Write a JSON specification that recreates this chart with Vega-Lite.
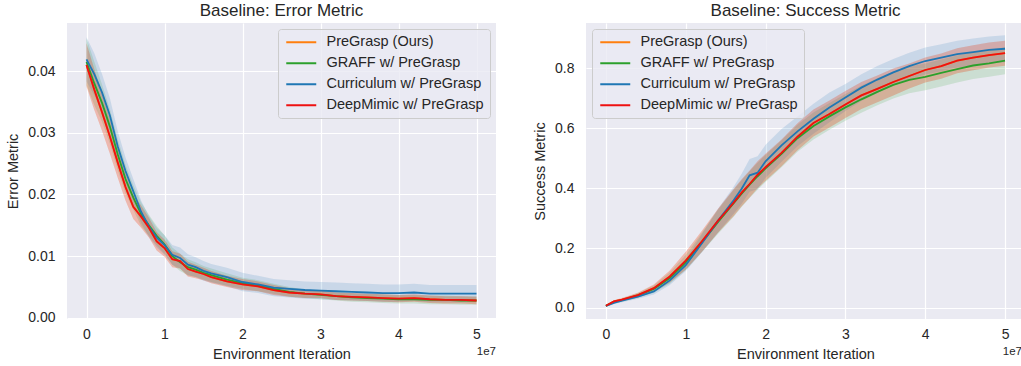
{
"$schema": "https://vega.github.io/schema/vega-lite/v6.json",
"padding": {"left": 5, "top": 2, "right": 0, "bottom": 0},
"background": "white",
"config": {
  "font": "Liberation Sans",
  "view": {"fill": "#EAEAF2", "stroke": null},
  "axis": {"domain": false, "ticks": false, "gridColor": "#FFFFFF", "gridWidth": 1.2, "labelColor": "#262626", "titleColor": "#262626", "labelFontSize": 14, "titleFontSize": 14.5, "titleFontWeight": "normal", "labelFont": "Liberation Sans", "titleFont": "Liberation Sans"},
  "axisX": {"labelPadding": 8, "titlePadding": 6},
  "axisY": {"labelPadding": 12, "titlePadding": 7},
  "title": {"fontSize": 17, "fontWeight": "normal", "color": "#262626", "offset": 3, "font": "Liberation Sans"},
  "legend": {"symbolStrokeWidth": 2, "labelFontSize": 14.5, "labelColor": "#262626", "labelFont": "Liberation Sans", "fillColor": "rgba(234,234,242,0.8)", "strokeColor": "#cccccc", "cornerRadius": 3, "padding": 6, "rowPadding": 6, "offset": 6, "labelLimit": 300},
  "concat": {"spacing": 36}
},
"datasets": {
"err": [
{"s":"P","x":0,"y":0.0410,"l":0.0375,"h":0.0445},{"s":"P","x":1,"y":0.0370,"l":0.0337,"h":0.0403},{"s":"P","x":2,"y":0.0333,"l":0.0303,"h":0.0363},{"s":"P","x":3,"y":0.0294,"l":0.0266,"h":0.0322},{"s":"P","x":4,"y":0.0252,"l":0.0227,"h":0.0277},{"s":"P","x":5,"y":0.0212,"l":0.0190,"h":0.0234},{"s":"P","x":6,"y":0.0180,"l":0.0160,"h":0.0200},{"s":"P","x":7,"y":0.0164,"l":0.0146,"h":0.0182},{"s":"P","x":8,"y":0.0146,"l":0.0130,"h":0.0162},{"s":"P","x":9,"y":0.0124,"l":0.0109,"h":0.0139},{"s":"P","x":10,"y":0.0113,"l":0.0099,"h":0.0127},{"s":"P","x":11,"y":0.0095,"l":0.0082,"h":0.0108},{"s":"P","x":12,"y":0.0092,"l":0.0080,"h":0.0104},{"s":"P","x":13,"y":0.0079,"l":0.0067,"h":0.0091},{"s":"P","x":14,"y":0.0075,"l":0.0064,"h":0.0086},{"s":"P","x":15,"y":0.0071,"l":0.0061,"h":0.0081},{"s":"P","x":16,"y":0.0066,"l":0.0056,"h":0.0076},{"s":"P","x":18,"y":0.0059,"l":0.0050,"h":0.0068},{"s":"P","x":20,"y":0.0054,"l":0.0045,"h":0.0063},{"s":"P","x":22,"y":0.0051,"l":0.0043,"h":0.0059},{"s":"P","x":24,"y":0.0045,"l":0.0037,"h":0.0053},{"s":"P","x":26,"y":0.0041,"l":0.0034,"h":0.0048},{"s":"P","x":28,"y":0.0039,"l":0.0032,"h":0.0046},{"s":"P","x":30,"y":0.0038,"l":0.0032,"h":0.0044},{"s":"P","x":32,"y":0.0035,"l":0.0029,"h":0.0041},{"s":"P","x":34,"y":0.0034,"l":0.0028,"h":0.0040},{"s":"P","x":36,"y":0.0033,"l":0.0027,"h":0.0039},{"s":"P","x":38,"y":0.0032,"l":0.0026,"h":0.0038},{"s":"P","x":40,"y":0.0031,"l":0.0025,"h":0.0037},{"s":"P","x":42,"y":0.0032,"l":0.0026,"h":0.0038},{"s":"P","x":44,"y":0.0030,"l":0.0024,"h":0.0036},{"s":"P","x":46,"y":0.0029,"l":0.0023,"h":0.0035},{"s":"P","x":48,"y":0.0029,"l":0.0023,"h":0.0035},{"s":"P","x":50,"y":0.0028,"l":0.0022,"h":0.0034},
{"s":"G","x":0,"y":0.0415,"l":0.0377,"h":0.0453},{"s":"G","x":1,"y":0.0380,"l":0.0345,"h":0.0415},{"s":"G","x":2,"y":0.0348,"l":0.0318,"h":0.0378},{"s":"G","x":3,"y":0.0310,"l":0.0282,"h":0.0338},{"s":"G","x":4,"y":0.0265,"l":0.0240,"h":0.0290},{"s":"G","x":5,"y":0.0225,"l":0.0202,"h":0.0248},{"s":"G","x":6,"y":0.0195,"l":0.0175,"h":0.0215},{"s":"G","x":7,"y":0.0168,"l":0.0149,"h":0.0187},{"s":"G","x":8,"y":0.0150,"l":0.0133,"h":0.0167},{"s":"G","x":9,"y":0.0133,"l":0.0117,"h":0.0149},{"s":"G","x":10,"y":0.0119,"l":0.0104,"h":0.0134},{"s":"G","x":11,"y":0.0100,"l":0.0086,"h":0.0114},{"s":"G","x":12,"y":0.0090,"l":0.0076,"h":0.0104},{"s":"G","x":13,"y":0.0082,"l":0.0069,"h":0.0095},{"s":"G","x":14,"y":0.0078,"l":0.0066,"h":0.0090},{"s":"G","x":15,"y":0.0073,"l":0.0062,"h":0.0084},{"s":"G","x":16,"y":0.0069,"l":0.0058,"h":0.0080},{"s":"G","x":18,"y":0.0062,"l":0.0052,"h":0.0072},{"s":"G","x":20,"y":0.0056,"l":0.0047,"h":0.0065},{"s":"G","x":22,"y":0.0052,"l":0.0043,"h":0.0061},{"s":"G","x":24,"y":0.0047,"l":0.0039,"h":0.0055},{"s":"G","x":26,"y":0.0042,"l":0.0034,"h":0.0050},{"s":"G","x":28,"y":0.0039,"l":0.0032,"h":0.0046},{"s":"G","x":30,"y":0.0037,"l":0.0030,"h":0.0044},{"s":"G","x":32,"y":0.0035,"l":0.0028,"h":0.0042},{"s":"G","x":34,"y":0.0033,"l":0.0026,"h":0.0040},{"s":"G","x":36,"y":0.0032,"l":0.0025,"h":0.0039},{"s":"G","x":38,"y":0.0031,"l":0.0024,"h":0.0038},{"s":"G","x":40,"y":0.0030,"l":0.0023,"h":0.0037},{"s":"G","x":42,"y":0.0030,"l":0.0023,"h":0.0037},{"s":"G","x":44,"y":0.0029,"l":0.0022,"h":0.0036},{"s":"G","x":46,"y":0.0029,"l":0.0022,"h":0.0036},{"s":"G","x":48,"y":0.0028,"l":0.0021,"h":0.0035},{"s":"G","x":50,"y":0.0028,"l":0.0021,"h":0.0035},
{"s":"C","x":0,"y":0.0419,"l":0.0383,"h":0.0455},{"s":"C","x":1,"y":0.0395,"l":0.0361,"h":0.0429},{"s":"C","x":2,"y":0.0365,"l":0.0335,"h":0.0395},{"s":"C","x":3,"y":0.0328,"l":0.0300,"h":0.0356},{"s":"C","x":4,"y":0.0278,"l":0.0253,"h":0.0303},{"s":"C","x":5,"y":0.0238,"l":0.0216,"h":0.0260},{"s":"C","x":6,"y":0.0205,"l":0.0185,"h":0.0225},{"s":"C","x":7,"y":0.0172,"l":0.0154,"h":0.0190},{"s":"C","x":8,"y":0.0148,"l":0.0131,"h":0.0165},{"s":"C","x":9,"y":0.0130,"l":0.0114,"h":0.0146},{"s":"C","x":10,"y":0.0118,"l":0.0102,"h":0.0134},{"s":"C","x":11,"y":0.0102,"l":0.0086,"h":0.0118},{"s":"C","x":12,"y":0.0097,"l":0.0080,"h":0.0114},{"s":"C","x":13,"y":0.0086,"l":0.0069,"h":0.0103},{"s":"C","x":14,"y":0.0082,"l":0.0066,"h":0.0098},{"s":"C","x":15,"y":0.0076,"l":0.0060,"h":0.0092},{"s":"C","x":16,"y":0.0072,"l":0.0057,"h":0.0087},{"s":"C","x":18,"y":0.0066,"l":0.0051,"h":0.0081},{"s":"C","x":20,"y":0.0058,"l":0.0043,"h":0.0073},{"s":"C","x":22,"y":0.0054,"l":0.0040,"h":0.0068},{"s":"C","x":24,"y":0.0049,"l":0.0035,"h":0.0063},{"s":"C","x":26,"y":0.0047,"l":0.0033,"h":0.0061},{"s":"C","x":28,"y":0.0045,"l":0.0031,"h":0.0059},{"s":"C","x":30,"y":0.0044,"l":0.0030,"h":0.0058},{"s":"C","x":32,"y":0.0043,"l":0.0029,"h":0.0057},{"s":"C","x":34,"y":0.0042,"l":0.0028,"h":0.0056},{"s":"C","x":36,"y":0.0041,"l":0.0027,"h":0.0055},{"s":"C","x":38,"y":0.0040,"l":0.0026,"h":0.0054},{"s":"C","x":40,"y":0.0040,"l":0.0026,"h":0.0054},{"s":"C","x":42,"y":0.0041,"l":0.0027,"h":0.0055},{"s":"C","x":44,"y":0.0039,"l":0.0025,"h":0.0053},{"s":"C","x":46,"y":0.0039,"l":0.0025,"h":0.0053},{"s":"C","x":48,"y":0.0039,"l":0.0025,"h":0.0053},{"s":"C","x":50,"y":0.0039,"l":0.0025,"h":0.0053},
{"s":"D","x":0,"y":0.0410,"l":0.0375,"h":0.0445},{"s":"D","x":1,"y":0.0370,"l":0.0337,"h":0.0403},{"s":"D","x":2,"y":0.0333,"l":0.0303,"h":0.0363},{"s":"D","x":3,"y":0.0294,"l":0.0266,"h":0.0322},{"s":"D","x":4,"y":0.0252,"l":0.0227,"h":0.0277},{"s":"D","x":5,"y":0.0212,"l":0.0190,"h":0.0234},{"s":"D","x":6,"y":0.0180,"l":0.0160,"h":0.0200},{"s":"D","x":7,"y":0.0164,"l":0.0146,"h":0.0182},{"s":"D","x":8,"y":0.0146,"l":0.0130,"h":0.0162},{"s":"D","x":9,"y":0.0124,"l":0.0109,"h":0.0139},{"s":"D","x":10,"y":0.0113,"l":0.0099,"h":0.0127},{"s":"D","x":11,"y":0.0095,"l":0.0082,"h":0.0108},{"s":"D","x":12,"y":0.0092,"l":0.0080,"h":0.0104},{"s":"D","x":13,"y":0.0079,"l":0.0067,"h":0.0091},{"s":"D","x":14,"y":0.0075,"l":0.0064,"h":0.0086},{"s":"D","x":15,"y":0.0071,"l":0.0061,"h":0.0081},{"s":"D","x":16,"y":0.0066,"l":0.0056,"h":0.0076},{"s":"D","x":18,"y":0.0059,"l":0.0050,"h":0.0068},{"s":"D","x":20,"y":0.0054,"l":0.0045,"h":0.0063},{"s":"D","x":22,"y":0.0051,"l":0.0043,"h":0.0059},{"s":"D","x":24,"y":0.0045,"l":0.0037,"h":0.0053},{"s":"D","x":26,"y":0.0041,"l":0.0034,"h":0.0048},{"s":"D","x":28,"y":0.0039,"l":0.0032,"h":0.0046},{"s":"D","x":30,"y":0.0038,"l":0.0032,"h":0.0044},{"s":"D","x":32,"y":0.0035,"l":0.0029,"h":0.0041},{"s":"D","x":34,"y":0.0034,"l":0.0028,"h":0.0040},{"s":"D","x":36,"y":0.0033,"l":0.0027,"h":0.0039},{"s":"D","x":38,"y":0.0032,"l":0.0026,"h":0.0038},{"s":"D","x":40,"y":0.0031,"l":0.0025,"h":0.0037},{"s":"D","x":42,"y":0.0032,"l":0.0026,"h":0.0038},{"s":"D","x":44,"y":0.0030,"l":0.0024,"h":0.0036},{"s":"D","x":46,"y":0.0029,"l":0.0023,"h":0.0035},{"s":"D","x":48,"y":0.0029,"l":0.0023,"h":0.0035},{"s":"D","x":50,"y":0.0028,"l":0.0022,"h":0.0034}
],
"suc": [
{"s":"P","x":0,"y":0.007,"l":0.004,"h":0.010},{"s":"P","x":1,"y":0.022,"l":0.018,"h":0.026},{"s":"P","x":2,"y":0.028,"l":0.023,"h":0.033},{"s":"P","x":4,"y":0.043,"l":0.035,"h":0.051},{"s":"P","x":6,"y":0.066,"l":0.054,"h":0.078},{"s":"P","x":8,"y":0.105,"l":0.085,"h":0.125},{"s":"P","x":10,"y":0.158,"l":0.128,"h":0.188},{"s":"P","x":12,"y":0.222,"l":0.187,"h":0.257},{"s":"P","x":14,"y":0.290,"l":0.250,"h":0.330},{"s":"P","x":16,"y":0.352,"l":0.307,"h":0.397},{"s":"P","x":17,"y":0.385,"l":0.340,"h":0.430},{"s":"P","x":18,"y":0.414,"l":0.369,"h":0.459},{"s":"P","x":19,"y":0.445,"l":0.400,"h":0.490},{"s":"P","x":20,"y":0.470,"l":0.425,"h":0.515},{"s":"P","x":22,"y":0.518,"l":0.473,"h":0.563},{"s":"P","x":24,"y":0.572,"l":0.527,"h":0.617},{"s":"P","x":26,"y":0.618,"l":0.573,"h":0.663},{"s":"P","x":28,"y":0.648,"l":0.603,"h":0.693},{"s":"P","x":30,"y":0.680,"l":0.635,"h":0.725},{"s":"P","x":32,"y":0.710,"l":0.665,"h":0.755},{"s":"P","x":34,"y":0.732,"l":0.687,"h":0.777},{"s":"P","x":36,"y":0.755,"l":0.710,"h":0.800},{"s":"P","x":38,"y":0.775,"l":0.733,"h":0.817},{"s":"P","x":40,"y":0.795,"l":0.753,"h":0.837},{"s":"P","x":42,"y":0.808,"l":0.766,"h":0.850},{"s":"P","x":44,"y":0.826,"l":0.784,"h":0.868},{"s":"P","x":46,"y":0.836,"l":0.794,"h":0.878},{"s":"P","x":48,"y":0.845,"l":0.803,"h":0.887},{"s":"P","x":50,"y":0.851,"l":0.809,"h":0.893},
{"s":"G","x":0,"y":0.007,"l":0.004,"h":0.010},{"s":"G","x":1,"y":0.020,"l":0.016,"h":0.024},{"s":"G","x":2,"y":0.026,"l":0.021,"h":0.031},{"s":"G","x":4,"y":0.042,"l":0.034,"h":0.050},{"s":"G","x":6,"y":0.063,"l":0.051,"h":0.075},{"s":"G","x":8,"y":0.100,"l":0.082,"h":0.118},{"s":"G","x":10,"y":0.152,"l":0.127,"h":0.177},{"s":"G","x":12,"y":0.218,"l":0.186,"h":0.250},{"s":"G","x":14,"y":0.286,"l":0.246,"h":0.326},{"s":"G","x":16,"y":0.350,"l":0.305,"h":0.395},{"s":"G","x":17,"y":0.382,"l":0.337,"h":0.427},{"s":"G","x":18,"y":0.412,"l":0.367,"h":0.457},{"s":"G","x":19,"y":0.440,"l":0.395,"h":0.485},{"s":"G","x":20,"y":0.466,"l":0.421,"h":0.511},{"s":"G","x":22,"y":0.515,"l":0.470,"h":0.560},{"s":"G","x":24,"y":0.567,"l":0.522,"h":0.612},{"s":"G","x":26,"y":0.608,"l":0.563,"h":0.653},{"s":"G","x":28,"y":0.640,"l":0.595,"h":0.685},{"s":"G","x":30,"y":0.670,"l":0.625,"h":0.715},{"s":"G","x":32,"y":0.697,"l":0.652,"h":0.742},{"s":"G","x":34,"y":0.722,"l":0.677,"h":0.767},{"s":"G","x":36,"y":0.745,"l":0.700,"h":0.790},{"s":"G","x":38,"y":0.762,"l":0.717,"h":0.807},{"s":"G","x":40,"y":0.772,"l":0.727,"h":0.817},{"s":"G","x":42,"y":0.785,"l":0.740,"h":0.830},{"s":"G","x":44,"y":0.798,"l":0.753,"h":0.843},{"s":"G","x":46,"y":0.810,"l":0.765,"h":0.855},{"s":"G","x":48,"y":0.817,"l":0.772,"h":0.862},{"s":"G","x":50,"y":0.826,"l":0.781,"h":0.871},
{"s":"C","x":0,"y":0.007,"l":0.004,"h":0.010},{"s":"C","x":1,"y":0.017,"l":0.013,"h":0.021},{"s":"C","x":2,"y":0.024,"l":0.019,"h":0.029},{"s":"C","x":4,"y":0.038,"l":0.031,"h":0.045},{"s":"C","x":6,"y":0.055,"l":0.045,"h":0.065},{"s":"C","x":8,"y":0.092,"l":0.077,"h":0.107},{"s":"C","x":10,"y":0.143,"l":0.123,"h":0.163},{"s":"C","x":12,"y":0.215,"l":0.185,"h":0.245},{"s":"C","x":14,"y":0.290,"l":0.250,"h":0.330},{"s":"C","x":16,"y":0.360,"l":0.315,"h":0.405},{"s":"C","x":17,"y":0.398,"l":0.348,"h":0.448},{"s":"C","x":18,"y":0.443,"l":0.388,"h":0.498},{"s":"C","x":19,"y":0.452,"l":0.397,"h":0.507},{"s":"C","x":20,"y":0.490,"l":0.435,"h":0.545},{"s":"C","x":22,"y":0.543,"l":0.488,"h":0.598},{"s":"C","x":24,"y":0.590,"l":0.540,"h":0.640},{"s":"C","x":26,"y":0.632,"l":0.582,"h":0.682},{"s":"C","x":28,"y":0.670,"l":0.620,"h":0.720},{"s":"C","x":30,"y":0.703,"l":0.658,"h":0.748},{"s":"C","x":32,"y":0.736,"l":0.691,"h":0.781},{"s":"C","x":34,"y":0.763,"l":0.718,"h":0.808},{"s":"C","x":36,"y":0.787,"l":0.742,"h":0.832},{"s":"C","x":38,"y":0.808,"l":0.763,"h":0.853},{"s":"C","x":40,"y":0.825,"l":0.780,"h":0.870},{"s":"C","x":42,"y":0.836,"l":0.791,"h":0.881},{"s":"C","x":44,"y":0.848,"l":0.803,"h":0.893},{"s":"C","x":46,"y":0.855,"l":0.810,"h":0.900},{"s":"C","x":48,"y":0.862,"l":0.817,"h":0.907},{"s":"C","x":50,"y":0.866,"l":0.821,"h":0.911},
{"s":"D","x":0,"y":0.007,"l":0.004,"h":0.010},{"s":"D","x":1,"y":0.022,"l":0.018,"h":0.026},{"s":"D","x":2,"y":0.028,"l":0.023,"h":0.033},{"s":"D","x":4,"y":0.043,"l":0.035,"h":0.051},{"s":"D","x":6,"y":0.066,"l":0.054,"h":0.078},{"s":"D","x":8,"y":0.105,"l":0.085,"h":0.125},{"s":"D","x":10,"y":0.158,"l":0.128,"h":0.188},{"s":"D","x":12,"y":0.222,"l":0.187,"h":0.257},{"s":"D","x":14,"y":0.290,"l":0.250,"h":0.330},{"s":"D","x":16,"y":0.352,"l":0.307,"h":0.397},{"s":"D","x":17,"y":0.385,"l":0.340,"h":0.430},{"s":"D","x":18,"y":0.414,"l":0.369,"h":0.459},{"s":"D","x":19,"y":0.445,"l":0.400,"h":0.490},{"s":"D","x":20,"y":0.470,"l":0.425,"h":0.515},{"s":"D","x":22,"y":0.518,"l":0.473,"h":0.563},{"s":"D","x":24,"y":0.572,"l":0.527,"h":0.617},{"s":"D","x":26,"y":0.618,"l":0.573,"h":0.663},{"s":"D","x":28,"y":0.648,"l":0.603,"h":0.693},{"s":"D","x":30,"y":0.680,"l":0.635,"h":0.725},{"s":"D","x":32,"y":0.710,"l":0.665,"h":0.755},{"s":"D","x":34,"y":0.732,"l":0.687,"h":0.777},{"s":"D","x":36,"y":0.755,"l":0.710,"h":0.800},{"s":"D","x":38,"y":0.775,"l":0.733,"h":0.817},{"s":"D","x":40,"y":0.795,"l":0.753,"h":0.837},{"s":"D","x":42,"y":0.808,"l":0.766,"h":0.850},{"s":"D","x":44,"y":0.826,"l":0.784,"h":0.868},{"s":"D","x":46,"y":0.836,"l":0.794,"h":0.878},{"s":"D","x":48,"y":0.845,"l":0.803,"h":0.887},{"s":"D","x":50,"y":0.851,"l":0.809,"h":0.893}
]
},
"hconcat": [
{
  "width": 429, "height": 296,
  "title": "Baseline: Error Metric",
  "layer": [
    {"data": {"name": "err"},
     "mark": {"type": "area", "opacity": 0.16},
     "encoding": {
       "x": {"field": "x", "type": "quantitative", "title": "Environment Iteration", "scale": {"domain": [-2.5, 52.5], "nice": false, "zero": false}, "axis": {"values": [0, 10, 20, 30, 40, 50], "labelExpr": "datum.value / 10"}},
       "y": {"field": "l", "type": "quantitative", "title": "Error Metric", "scale": {"domain": [-0.0002, 0.0478], "nice": false, "zero": false}, "axis": {"values": [0, 0.01, 0.02, 0.03, 0.04], "format": ".2f"}},
       "y2": {"field": "h"},
       "color": {"field": "s", "type": "nominal", "scale": {"domain": ["P", "G", "C", "D"], "range": ["#ff7f0e", "#2ca02c", "#1f77b4", "#ee1111"]},
         "legend": {"title": null, "orient": "top-right", "symbolType": "M-3,0H3", "symbolSize": 100, "symbolOffset": 10, "labelOffset": 18, "symbolOpacity": 1, "labelExpr": "datum.label == 'P' ? 'PreGrasp (Ours)' : datum.label == 'G' ? 'GRAFF w/ PreGrasp' : datum.label == 'C' ? 'Curriculum w/ PreGrasp' : 'DeepMimic w/ PreGrasp'"}}
     }},
    {"data": {"name": "err"},
     "mark": {"type": "line", "strokeWidth": 1.8},
     "encoding": {
       "x": {"field": "x", "type": "quantitative"},
       "y": {"field": "y", "type": "quantitative"},
       "color": {"field": "s", "type": "nominal",
         "legend": {"title": null, "orient": "top-right", "symbolType": "M-3,0H3", "symbolSize": 100, "symbolOffset": 10, "labelOffset": 18, "symbolOpacity": 1, "labelExpr": "datum.label == 'P' ? 'PreGrasp (Ours)' : datum.label == 'G' ? 'GRAFF w/ PreGrasp' : datum.label == 'C' ? 'Curriculum w/ PreGrasp' : 'DeepMimic w/ PreGrasp'"}}
     }},
    {"data": {"values": [{"t": "1e7"}]},
     "mark": {"type": "text", "align": "right", "baseline": "top", "dy": 27, "fontSize": 11.5, "color": "#262626"},
     "encoding": {"x": {"datum": 52.5}, "y": {"datum": -0.0002}, "text": {"field": "t"}}}
  ]
},
{
  "width": 439, "height": 296,
  "title": "Baseline: Success Metric",
  "layer": [
    {"data": {"name": "suc"},
     "mark": {"type": "area", "opacity": 0.16},
     "encoding": {
       "x": {"field": "x", "type": "quantitative", "title": "Environment Iteration", "scale": {"domain": [-2.5, 52.5], "nice": false, "zero": false}, "axis": {"values": [0, 10, 20, 30, 40, 50], "labelExpr": "datum.value / 10"}},
       "y": {"field": "l", "type": "quantitative", "title": "Success Metric", "scale": {"domain": [-0.037, 0.952], "nice": false, "zero": false}, "axis": {"values": [0, 0.2, 0.4, 0.6, 0.8], "format": ".1f"}},
       "y2": {"field": "h"},
       "color": {"field": "s", "type": "nominal", "scale": {"domain": ["P", "G", "C", "D"], "range": ["#ff7f0e", "#2ca02c", "#1f77b4", "#ee1111"]},
         "legend": {"title": null, "orient": "top-left", "symbolType": "M-3,0H3", "symbolSize": 100, "symbolOffset": 10, "labelOffset": 18, "symbolOpacity": 1, "labelExpr": "datum.label == 'P' ? 'PreGrasp (Ours)' : datum.label == 'G' ? 'GRAFF w/ PreGrasp' : datum.label == 'C' ? 'Curriculum w/ PreGrasp' : 'DeepMimic w/ PreGrasp'"}}
     }},
    {"data": {"name": "suc"},
     "mark": {"type": "line", "strokeWidth": 1.8},
     "encoding": {
       "x": {"field": "x", "type": "quantitative"},
       "y": {"field": "y", "type": "quantitative"},
       "color": {"field": "s", "type": "nominal",
         "legend": {"title": null, "orient": "top-left", "symbolType": "M-3,0H3", "symbolSize": 100, "symbolOffset": 10, "labelOffset": 18, "symbolOpacity": 1, "labelExpr": "datum.label == 'P' ? 'PreGrasp (Ours)' : datum.label == 'G' ? 'GRAFF w/ PreGrasp' : datum.label == 'C' ? 'Curriculum w/ PreGrasp' : 'DeepMimic w/ PreGrasp'"}}
     }},
    {"data": {"values": [{"t": "1e7"}]},
     "mark": {"type": "text", "align": "right", "baseline": "top", "dy": 27, "dx": -3, "fontSize": 11.5, "color": "#262626"},
     "encoding": {"x": {"datum": 52.5}, "y": {"datum": -0.037}, "text": {"field": "t"}}}
  ]
}
],
"resolve": {"scale": {"color": "independent", "x": "independent", "y": "independent"}, "legend": {"color": "independent"}}
}
